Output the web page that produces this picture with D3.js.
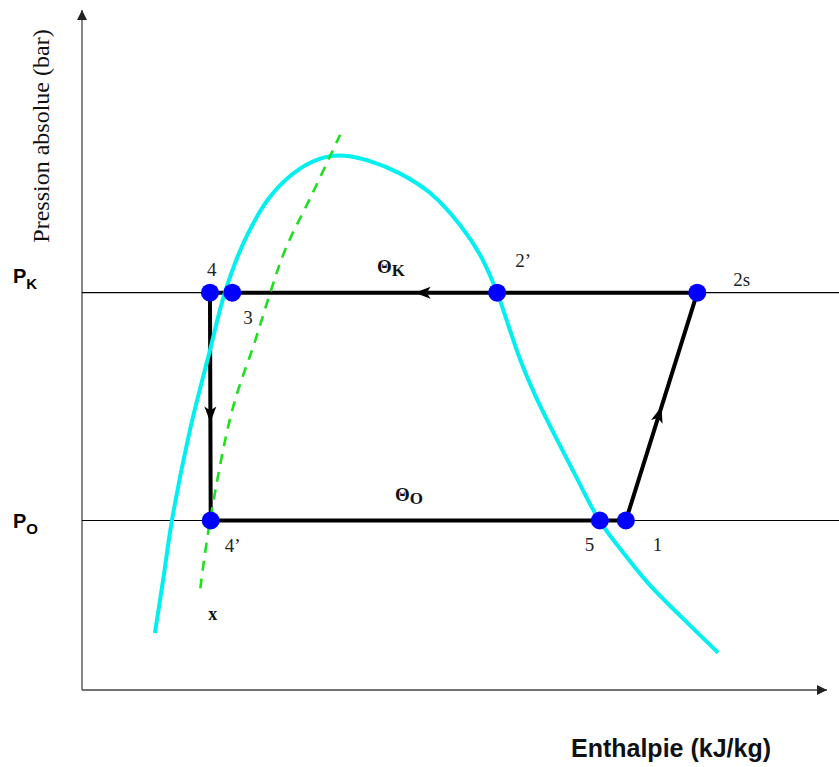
<!DOCTYPE html>
<html>
<head>
<meta charset="utf-8">
<script src="https://cdn.jsdelivr.net/npm/d3@7"></script>
<style>
  body { margin: 0; background: #fff; }
  svg { display: block; }
</style>
</head>
<body>
<div id="chart"></div>
<script>
// saturation dome (enthalpy, pressure) in arbitrary chart units
const domeH = [9.8, 10.9, 12.1, 14.5, 17.2, 19.2, 21.9, 25.3, 29.3, 32.7, 35.3, 38.7, 42.7, 46.8, 50.8, 53.5, 55.8, 57.3, 58.9, 60.9, 63.3, 66.3, 69.6, 73.0, 76.3, 81.0, 85.5];
const domeP = [8.4, 16.2, 25.1, 38.3, 50.1, 58.6, 66.4, 72.8, 76.9, 78.6, 78.8, 78.0, 76.2, 73.3, 68.6, 64.2, 58.6, 53.8, 48.7, 43.5, 38.1, 31.7, 24.9, 19.9, 15.5, 10.3, 5.5];

// iso-quality line x (green dashed)
const isoH = [15.9, 17.2, 20.2, 23.3, 25.3, 27.3, 31.0, 34.7];
const isoP = [15.0, 24.9, 41.3, 51.6, 58.6, 64.9, 73.3, 81.9];

// pressure levels
const levelNames = ["K", "O"];
const levelP = [58.6, 25.0];

// cycle points
const pointNames = ["4", "3", "2’", "2s", "4’", "5", "1"];
const pointH = [17.2, 20.2, 55.8, 82.7, 17.3, 69.6, 73.1];
const pointP = [58.6, 58.6, 58.6, 58.6, 25.0, 25.0, 25.0];
const cycleOrder = ["4", "4’", "5", "1", "2s", "2’", "3"];

// arrows along the cycle: [from, to, fraction]
const arrowSegs = [["2s", "4", 0.58], ["4", "4’", 0.57], ["1", "2s", 0.50]];

const width = 839, height = 767;
const svg = d3.select("#chart").append("svg")
    .attr("width", width)
    .attr("height", height);

const xScale = d3.scaleLinear().domain([0, 100]).range([82, 826]);
const yScale = d3.scaleLinear().domain([0, 100]).range([690, 12]);

const pt = {};
pointNames.forEach((n, i) => pt[n] = [xScale(pointH[i]), yScale(pointP[i])]);

const line = d3.line()
    .x(d => xScale(d[0]))
    .y(d => yScale(d[1]));

const smooth = d3.line()
    .x(d => xScale(d[0]))
    .y(d => yScale(d[1]))
    .curve(d3.curveCatmullRom.alpha(0.5));

// axes with arrowheads
svg.append("defs").append("marker")
    .attr("id", "axisArrow")
    .attr("viewBox", "0 0 10 10")
    .attr("refX", 10)
    .attr("refY", 5)
    .attr("markerWidth", 10)
    .attr("markerHeight", 10)
    .attr("markerUnits", "userSpaceOnUse")
    .attr("orient", "auto")
    .append("path")
    .attr("d", "M0,0 L10,5 L0,10 Z")
    .attr("fill", "#222");

svg.append("line")
    .attr("x1", xScale(0)).attr("y1", yScale(0))
    .attr("x2", xScale(0)).attr("y2", yScale(100) - 2)
    .attr("stroke", "#444").attr("stroke-width", 1.3)
    .attr("marker-end", "url(#axisArrow)");

svg.append("line")
    .attr("x1", xScale(0)).attr("y1", yScale(0))
    .attr("x2", xScale(100) + 1).attr("y2", yScale(0))
    .attr("stroke", "#444").attr("stroke-width", 1.3)
    .attr("marker-end", "url(#axisArrow)");

// pressure level lines
levelP.forEach((p, i) => {
    svg.append("line")
        .attr("x1", xScale(0)).attr("x2", width)
        .attr("y1", yScale(p)).attr("y2", yScale(p))
        .attr("stroke", "#000").attr("stroke-width", 1.2);

    const t = svg.append("text")
        .attr("x", 13)
        .attr("y", yScale(p) - (i === 0 ? 10 : -7))
        .style("font-family", "Liberation Sans, Arial, sans-serif")
        .style("font-weight", "bold")
        .style("font-size", "20px")
        .attr("fill", "#000");
    t.append("tspan").text("P");
    t.append("tspan").attr("dy", 6).style("font-size", "15px").style("font-weight", "600").text(levelNames[i]);
});

// cycle
svg.append("path")
    .datum(cycleOrder.map(n => [pointH[pointNames.indexOf(n)], pointP[pointNames.indexOf(n)]]))
    .attr("d", d => line(d) + "Z")
    .attr("fill", "none")
    .attr("stroke", "#000")
    .attr("stroke-width", 4)
    .attr("stroke-linejoin", "miter");

arrowSegs.forEach(([a, b, f]) => {
    const p0 = pt[a], p1 = pt[b];
    const tx = p0[0] + (p1[0] - p0[0]) * f;
    const ty = p0[1] + (p1[1] - p0[1]) * f;
    const ang = Math.atan2(p1[1] - p0[1], p1[0] - p0[0]) * 180 / Math.PI;
    svg.append("path")
        .attr("d", "M0,0 L-16,-6 L-12,0 L-16,6 Z")
        .attr("transform", `translate(${tx},${ty}) rotate(${ang})`)
        .attr("fill", "#000");
});

// saturation dome
svg.append("path")
    .datum(domeH.map((h, i) => [h, domeP[i]]))
    .attr("d", smooth)
    .attr("fill", "none")
    .attr("stroke", "#00f0f0")
    .attr("stroke-width", 4)
    .attr("stroke-linecap", "butt");

// quality line x
svg.append("path")
    .datum(isoH.map((h, i) => [h, isoP[i]]))
    .attr("d", smooth)
    .attr("fill", "none")
    .attr("stroke", "#1ee01e")
    .attr("stroke-width", 2.6)
    .attr("stroke-dasharray", "10 8");

// points
svg.selectAll(".cycle-dot")
    .data(pointNames)
    .enter().append("circle")
    .attr("class", "cycle-dot")
    .attr("cx", d => pt[d][0])
    .attr("cy", d => pt[d][1])
    .attr("r", 9)
    .attr("fill", "#0000ff");

// point labels (offsets from the dots)
const labelOffsets = {
    "4": [-3, -17], "3": [11, 31], "2’": [18, -26], "2s": [36, -7],
    "4’": [14, 31], "5": [-15, 30], "1": [27, 30]
};
svg.selectAll(".pt-label")
    .data(pointNames)
    .enter().append("text")
    .attr("class", "pt-label")
    .attr("x", d => pt[d][0] + labelOffsets[d][0])
    .attr("y", d => pt[d][1] + labelOffsets[d][1])
    .style("font-family", "Liberation Serif, 'Times New Roman', serif")
    .style("font-size", "19px")
    .attr("fill", "#222")
    .text(d => d);

svg.append("text")
    .attr("x", xScale(isoH[0]) + 8)
    .attr("y", yScale(isoP[0]) + 32)
    .style("font-family", "Liberation Serif, 'Times New Roman', serif")
    .style("font-size", "18px")
    .style("font-weight", "bold")
    .attr("fill", "#111")
    .text("x");

// temperature labels
function thetaLabel(x, p, sub) {
    const t = svg.append("text")
        .attr("x", x)
        .attr("y", yScale(p) - 20)
        .style("font-family", "Liberation Serif, 'Times New Roman', serif")
        .style("font-weight", "bold")
        .style("font-size", "19px")
        .attr("fill", "#111");
    t.append("tspan").text("Θ");
    t.append("tspan").attr("dy", 3).style("font-size", "17px").text(sub);
}
thetaLabel(377, levelP[0], "K");
thetaLabel(395, levelP[1], "O");

// axis titles
svg.append("text")
    .attr("transform", `translate(49,136) rotate(-90)`)
    .attr("text-anchor", "middle")
    .style("font-family", "Liberation Serif, 'Times New Roman', serif")
    .style("font-size", "24px")
    .attr("fill", "#111")
    .text("Pression absolue (bar)");

svg.append("text")
    .attr("x", 671)
    .attr("y", 757)
    .attr("text-anchor", "middle")
    .style("font-family", "Liberation Sans, Arial, sans-serif")
    .style("font-size", "25px")
    .style("font-weight", "bold")
    .attr("fill", "#111")
    .text("Enthalpie (kJ/kg)");
</script>
</body>
</html>
